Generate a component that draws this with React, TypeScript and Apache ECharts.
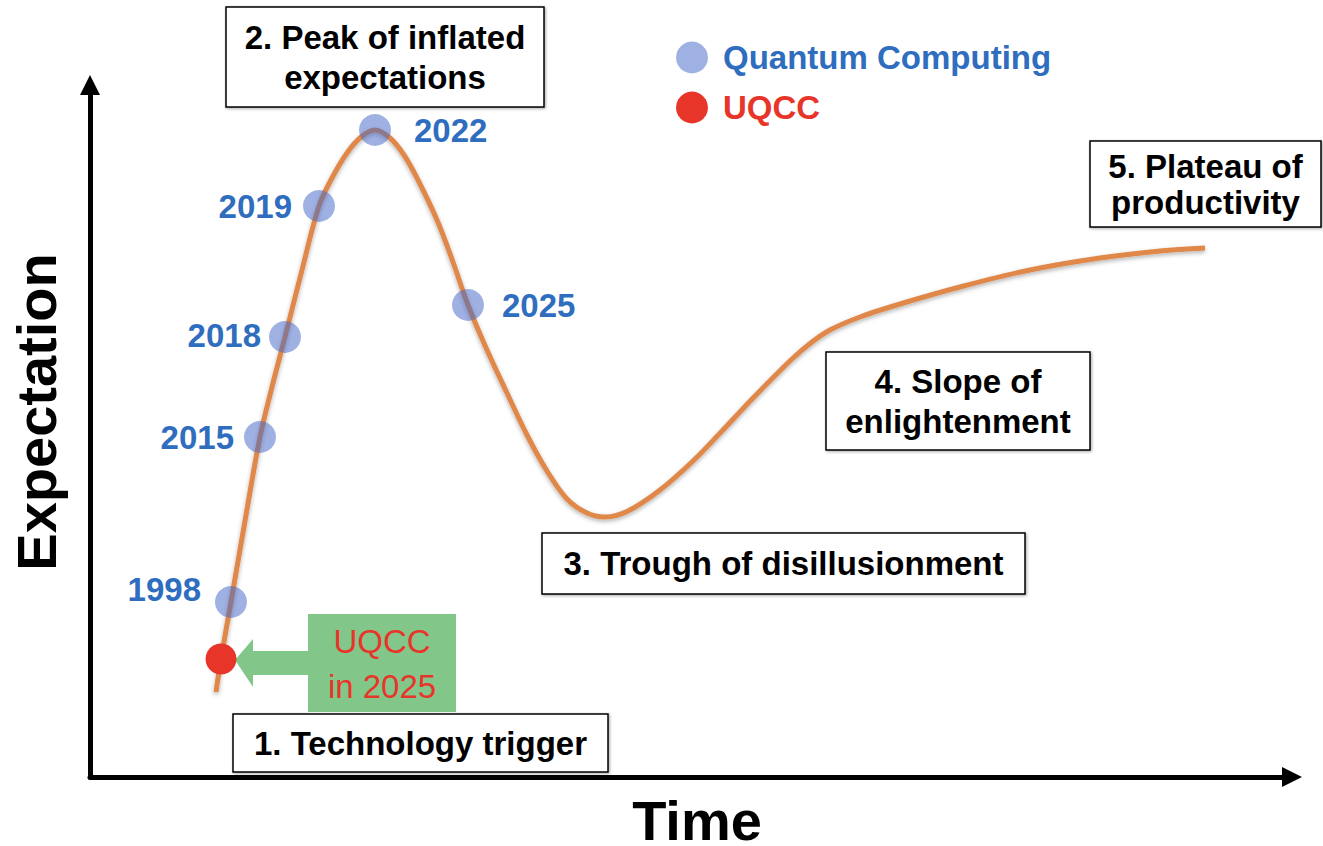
import React, { useEffect, useRef } from 'react';
import * as echarts from 'echarts';

// Hype-cycle curve (time units from the origin, expectation units above the time axis)
const curveTime = [126, 131, 141, 155, 170, 182, 195, 212, 229, 242, 257, 271, 285, 300, 314, 328, 347, 363, 378, 397, 417, 437, 457, 477, 497, 515, 538, 570, 603, 632, 665, 702, 722, 740, 770, 810, 870, 940, 1010, 1070, 1115];
const curveExpectation = [85, 118, 175, 256, 340, 390, 440, 507, 571, 599, 624, 640, 647, 639, 622, 597, 557, 515, 472, 427, 384, 342, 306, 278, 264, 260, 266, 287, 316, 346, 381, 418, 435, 447, 460, 473, 490, 507, 519, 526, 529];

// Quantum Computing milestones on the curve
const qcYears = ['1998', '2015', '2018', '2019', '2022', '2025'];
const qcTime = [141, 170, 195, 229, 285, 378];
const qcExpectation = [175, 340, 440, 571, 647, 472];

// UQCC position
const uqccTime = [131];
const uqccExpectation = [118];

const timeMax = 1202;
const expectationMax = 692;

const phaseNames = [
  '1. Technology trigger',
  '2. Peak of inflated\nexpectations',
  '3. Trough of disillusionment',
  '4. Slope of\nenlightenment',
  '5. Plateau of\nproductivity',
];
const calloutText = 'UQCC\nin 2025';

// layout (pixels) – not data
const phaseBoxes = [
  [233, 714, 375, 58, 40],
  [226, 7, 318, 100, 40],
  [542, 533, 483, 61, 40],
  [826, 352, 264, 98, 40],
  [1090, 141, 231, 86, 36],
];
const qcLabelLayout = [
  { position: 'left', distance: 14, offset: [0, -13] },
  { position: 'left', distance: 10, offset: [0, 0] },
  { position: 'left', distance: 8, offset: [0, -2] },
  { position: 'left', distance: 11, offset: [0, 0] },
  { position: 'right', distance: 23, offset: [0, 0] },
  { position: 'right', distance: 18, offset: [0, 0] },
];

const FONT = "'Liberation Sans', Arial, Helvetica, sans-serif";
const BLUE_TEXT = '#2F6DBF';
const RED = '#E8352A';
const DOT_BLUE = 'rgba(70,105,200,0.65)';
const ORANGE = '#E0884A';
const GREEN = '#82C68A';

export default function App() {
  const ref = useRef<HTMLDivElement>(null);

  useEffect(() => {
    if (!ref.current) return;
    const chart = echarts.init(ref.current, undefined, { renderer: 'svg' });

    const curveData = curveTime.map((t, i) => [t, curveExpectation[i]]);
    const qcData = qcTime.map((t, i) => ({
      value: [t, qcExpectation[i]],
      name: qcYears[i],
      label: {
        position: qcLabelLayout[i].position,
        distance: qcLabelLayout[i].distance,
        offset: qcLabelLayout[i].offset,
      },
    }));
    const uqccData = uqccTime.map((t, i) => [t, uqccExpectation[i]]);

    const graphic: any[] = [];
    phaseNames.forEach((name, i) => {
      const [x, y, w, h, lh] = phaseBoxes[i];
      graphic.push({
        type: 'rect',
        shape: { x, y, width: w, height: h },
        style: {
          fill: '#fff',
          stroke: '#000',
          lineWidth: 1.5,
          shadowBlur: 3,
          shadowColor: 'rgba(0,0,0,0.35)',
          shadowOffsetX: 1,
          shadowOffsetY: 1,
        },
        z: 1,
      });
      graphic.push({
        type: 'text',
        x: x + w / 2,
        y: y + h / 2,
        style: {
          text: name,
          align: 'center',
          verticalAlign: 'middle',
          fill: '#000',
          font: `bold 33px ${FONT}`,
          lineHeight: lh,
        },
        z: 2,
      });
    });
    // green callout arrow + box
    graphic.push({
      type: 'polygon',
      shape: {
        points: [
          [235, 660],
          [253, 639],
          [253, 651],
          [309, 651],
          [309, 675],
          [253, 675],
          [253, 687],
        ],
      },
      style: { fill: GREEN },
      z: 1,
    });
    graphic.push({
      type: 'rect',
      shape: { x: 308, y: 614, width: 148, height: 98 },
      style: { fill: GREEN },
      z: 1,
    });
    graphic.push({
      type: 'text',
      x: 382,
      y: 664,
      style: {
        text: calloutText,
        align: 'center',
        verticalAlign: 'middle',
        fill: RED,
        font: `33px ${FONT}`,
        lineHeight: 45,
      },
      z: 2,
    });

    chart.setOption({
      animation: false,
      backgroundColor: '#fff',
      grid: { left: 90, right: 31, top: 85, bottom: 69, containLabel: false, outerBoundsMode: 'none' },
      legend: {
        orient: 'vertical',
        left: 671,
        top: 36,
        itemWidth: 52,
        itemHeight: 32,
        itemGap: 17,
        icon: 'circle',
        selectedMode: false,
        data: [
          { name: 'Quantum Computing', textStyle: { color: BLUE_TEXT } },
          { name: 'UQCC', textStyle: { color: RED } },
        ],
        textStyle: { fontSize: 33, fontWeight: 'bold', fontFamily: FONT },
      },
      xAxis: {
        type: 'value',
        min: 0,
        max: timeMax,
        name: 'Time',
        nameLocation: 'middle',
        nameGap: 22,
        nameTextStyle: {
          fontSize: 56,
          lineHeight: 42,
          fontWeight: 'bold',
          color: '#000',
          fontFamily: FONT,
          padding: [0, 0, 0, 12],
        },
        axisLine: {
          show: true,
          onZero: false,
          symbol: ['none', 'triangle'],
          symbolSize: [20, 20],
          lineStyle: { color: '#000', width: 5 },
        },
        axisTick: { show: false },
        axisLabel: { show: false },
        splitLine: { show: false },
      },
      yAxis: {
        type: 'value',
        min: 0,
        max: expectationMax,
        name: 'Expectation',
        nameLocation: 'middle',
        nameGap: 26,
        nameRotate: 90,
        nameTextStyle: { fontSize: 56, fontWeight: 'bold', color: '#000', fontFamily: FONT, padding: [0, 0, 0, 38] },
        axisLine: {
          show: true,
          onZero: false,
          symbol: ['none', 'triangle'],
          symbolSize: [20, 20],
          lineStyle: { color: '#000', width: 5 },
        },
        axisTick: { show: false },
        axisLabel: { show: false },
        splitLine: { show: false },
      },
      graphic,
      series: [
        {
          name: 'Hype cycle',
          type: 'line',
          data: curveData,
          smooth: 0.35,
          symbol: 'none',
          silent: true,
          z: 3,
          lineStyle: {
            color: ORANGE,
            width: 5,
            shadowColor: 'rgba(0,0,0,0.3)',
            shadowBlur: 4,
            shadowOffsetY: 2,
          },
        },
        {
          name: 'Quantum Computing',
          type: 'scatter',
          data: qcData,
          symbolSize: 32,
          z: 4,
          itemStyle: { color: DOT_BLUE },
          label: {
            show: true,
            formatter: (p: any) => p.name,
            color: BLUE_TEXT,
            opacity: 1,
            fontSize: 33,
            fontWeight: 'bold',
            fontFamily: FONT,
          },
        },
        {
          name: 'UQCC',
          type: 'scatter',
          data: uqccData,
          symbolSize: 31,
          z: 5,
          itemStyle: { color: RED, opacity: 1 },
        },
      ],
    });

    return () => chart.dispose();
  }, []);

  return (
    <div
      ref={ref}
      style={{ position: 'absolute', left: 0, top: 0, width: 1323, height: 846, background: '#fff' }}
    />
  );
}
